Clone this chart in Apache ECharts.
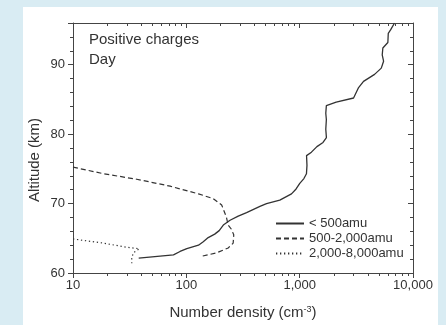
<!DOCTYPE html>
<html>
<head>
<meta charset="utf-8">
<style>
  html, body { margin: 0; padding: 0; background: #d9ecf3; }
  #chart { width: 446px; height: 325px; }
</style>
<script src="https://cdn.jsdelivr.net/npm/echarts@6/dist/echarts.min.js"></script>
</head>
<body>
<div id="chart"></div>
<script>
// ---- Data ----
const seriesNames = ['< 500amu', '500-2,000amu', '2,000-8,000amu'];

const smallDensity = [38, 77, 88, 101, 128, 141, 156, 178, 195, 212, 243, 287, 340, 446, 510, 668, 847, 930, 1002, 1090, 1148, 1160, 1150, 1270, 1420, 1607, 1722, 1700, 1720, 1700, 1720, 2100, 2990, 3310, 3660, 4580, 5250, 5500, 5350, 5420, 6000, 6050, 6340, 6870];
const smallAltitude = [62.14, 62.6, 63.1, 63.5, 64.0, 64.5, 65.1, 65.6, 66.1, 66.9, 67.6, 68.2, 68.7, 69.6, 70.0, 70.5, 71.4, 72.1, 72.9, 73.6, 74.3, 75.5, 76.9, 77.4, 78.2, 78.8, 79.5, 80.7, 82.1, 83.0, 84.1, 84.6, 85.2, 86.7, 87.6, 88.6, 89.5, 90.5, 91.4, 92.4, 93.2, 94.5, 95.0, 96.0];

const mediumDensity = [10, 18.6, 36.5, 55, 72, 88, 128, 173, 205, 219, 226, 234, 250, 262, 259, 234, 184, 136];
const mediumAltitude = [75.24, 74.3, 73.5, 72.9, 72.5, 72.1, 71.4, 70.7, 69.8, 68.6, 68.0, 66.9, 66.3, 65.5, 64.3, 63.6, 62.9, 62.4];

const largeDensity = [10, 18.6, 29.9, 38.5, 34, 33, 33];
const largeAltitude = [64.9, 64.3, 63.7, 63.5, 62.9, 62.1, 61.4];

const xMinorTicks = [20, 30, 40, 50, 60, 70, 80, 90, 200, 300, 400, 500, 600, 700, 800, 900, 2000, 3000, 4000, 5000, 6000, 7000, 8000, 9000];
const yMin = 60, yMax = 96, yInterval = 10;

// ---- Build chart ----
const pair = (xs, ys) => xs.map((x, i) => [x, ys[i]]);
const FONT = '"Liberation Sans", Arial, sans-serif';
const TXT = '#333';
const AX = '#444';
// minor-tick positions expressed as decade exponents (for an overlay axis spanning 10^1..10^4)
const xMinorExp = xMinorTicks.map(v => Math.log10(v));

const logAxisBase = (extra) => Object.assign({
  type: 'log', logBase: 10, min: 10, max: 10000,
  splitLine: { show: false }, minorSplitLine: { show: false }
}, extra);
const expAxisBase = (extra) => Object.assign({
  type: 'value', min: 1, max: 4,
  splitLine: { show: false }, minorSplitLine: { show: false }
}, extra);

const chart = echarts.init(document.getElementById('chart'), null, { renderer: 'canvas' });
chart.setOption({
  backgroundColor: '#d9ecf3',
  animation: false,
  graphic: [
    { type: 'rect', z: -10, shape: { x: 23, y: 7, width: 415, height: 330 }, style: { fill: '#ffffff' } },
    { type: 'text', z: 10, left: 89, top: 32, style: { text: 'Positive charges', font: '15px ' + FONT, fill: TXT } },
    { type: 'text', z: 10, left: 89, top: 52, style: { text: 'Day', font: '15px ' + FONT, fill: TXT } },
    { type: 'text', z: 10, x: 35, y: 160, rotation: Math.PI / 2,
      style: { text: 'Altitude (km)', font: '15px ' + FONT, fill: TXT, align: 'center', verticalAlign: 'middle' } }
  ],
  grid: { left: 73, right: 33, top: 23, bottom: 50, containLabel: false },
  legend: {
    data: seriesNames,
    orient: 'vertical', left: 275, top: 217, padding: 0,
    itemWidth: 28, itemHeight: 14, itemGap: 2,
    itemStyle: { opacity: 0 },
    textStyle: { fontSize: 13, fontFamily: FONT, color: TXT }
  },
  xAxis: [
    logAxisBase({
      position: 'bottom',
      axisLine: { lineStyle: { color: AX, width: 1 } },
      axisTick: { show: true, inside: false, length: 5, lineStyle: { color: AX } },
      axisLabel: { color: TXT, fontSize: 13, fontFamily: FONT, margin: 6,
        formatter: v => Math.round(v).toLocaleString('en-US') },
      name: 'Number density (cm{sup|-3})',
      nameLocation: 'middle', nameGap: 32,
      nameTextStyle: { fontSize: 15, fontFamily: FONT, color: TXT,
        rich: { sup: { fontSize: 9, fontFamily: FONT, color: TXT, verticalAlign: 'top' } } }
    }),
    expAxisBase({
      position: 'bottom',
      axisLine: { show: false },
      axisTick: { show: true, inside: false, length: 3, lineStyle: { color: AX }, customValues: xMinorExp },
      axisLabel: { show: false }
    }),
    logAxisBase({
      position: 'top',
      axisLine: { lineStyle: { color: AX, width: 1 } },
      axisTick: { show: true, inside: true, length: 5, lineStyle: { color: AX } },
      axisLabel: { show: false }
    }),
    expAxisBase({
      position: 'top',
      axisLine: { show: false },
      axisTick: { show: true, inside: true, length: 3, lineStyle: { color: AX }, customValues: xMinorExp },
      axisLabel: { show: false }
    })
  ],
  yAxis: [
    {
      type: 'value', min: yMin, max: yMax, interval: yInterval, position: 'left',
      axisLine: { show: true, lineStyle: { color: AX, width: 1 } },
      axisTick: { show: true, inside: false, length: 5, lineStyle: { color: AX } },
      minorTick: { show: true, splitNumber: 5, length: 3, lineStyle: { color: AX } },
      axisLabel: { color: TXT, fontSize: 13, fontFamily: FONT, margin: 8, showMaxLabel: false },
      splitLine: { show: false }, minorSplitLine: { show: false }
    },
    {
      type: 'value', min: yMin, max: yMax, interval: yInterval, position: 'right',
      axisLine: { show: true, lineStyle: { color: AX, width: 1 } },
      axisTick: { show: true, inside: true, length: 5, lineStyle: { color: AX } },
      minorTick: { show: true, splitNumber: 5, length: 3, lineStyle: { color: AX } },
      axisLabel: { show: false },
      splitLine: { show: false }, minorSplitLine: { show: false }
    }
  ],
  series: [
    { name: seriesNames[0], type: 'line', data: pair(smallDensity, smallAltitude),
      symbol: 'none', color: '#333', lineStyle: { width: 1.3, type: 'solid', color: '#333' } },
    { name: seriesNames[1], type: 'line', data: pair(mediumDensity, mediumAltitude),
      symbol: 'none', color: '#333', lineStyle: { width: 1.2, type: [5, 3], color: '#333' } },
    { name: seriesNames[2], type: 'line', data: pair(largeDensity, largeAltitude),
      symbol: 'none', color: '#333', lineStyle: { width: 1.2, type: [1.3, 2.7], color: '#333' } }
  ]
});
</script>
</body>
</html>
